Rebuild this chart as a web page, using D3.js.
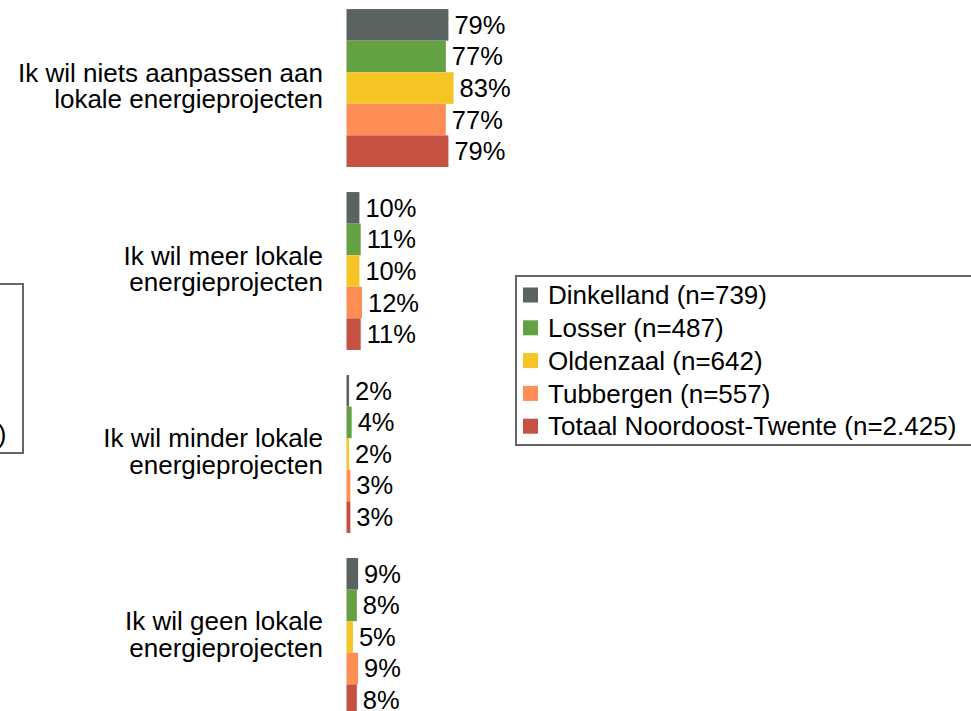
<!DOCTYPE html>
<html>
<head>
<meta charset="utf-8">
<script src="https://cdn.jsdelivr.net/npm/d3@7"></script>
<style>
  body { margin: 0; background: #fff; overflow: hidden; }
  svg { display: block; font-family: "Liberation Sans", Arial, sans-serif; }
</style>
</head>
<body>
<svg id="chart" width="971" height="711"></svg>
<script>
// answer categories (lines of the wrapped label)
const categories = [
  ['Ik wil niets aanpassen aan', 'lokale energieprojecten'],
  ['Ik wil meer lokale', 'energieprojecten'],
  ['Ik wil minder lokale', 'energieprojecten'],
  ['Ik wil geen lokale', 'energieprojecten']
];
const seriesNames = [
  'Dinkelland (n=739)',
  'Losser (n=487)',
  'Oldenzaal (n=642)',
  'Tubbergen (n=557)',
  'Totaal Noordoost-Twente (n=2.425)'
];
const dinkelland = [79, 10, 2, 9];
const losser = [77, 11, 4, 8];
const oldenzaal = [83, 10, 2, 5];
const tubbergen = [77, 12, 3, 9];
const totaal = [79, 11, 3, 8];
const colors = ['#5b6361', '#63a143', '#f5c425', '#fe8d56', '#c45142'];

const seriesValues = [dinkelland, losser, oldenzaal, tubbergen, totaal];

const svg = d3.select('#chart');

const x = d3.scaleLinear().domain([0, 100]).range([346.5, 475.5]);

const y = d3.scaleBand()
  .domain(d3.range(categories.length))
  .range([-16, 741])
  .padding(0.137);

const ySub = d3.scaleBand()
  .domain(d3.range(seriesNames.length))
  .range([0, y.bandwidth()]);

// one group per answer category
const groups = svg.selectAll('g.cat')
  .data(categories)
  .enter()
  .append('g')
  .attr('class', 'cat')
  .attr('transform', (d, i) => 'translate(0,' + y(i) + ')');

groups.selectAll('rect')
  .data((d, i) => seriesValues.map((s, j) => ({v: s[i], j: j})))
  .enter()
  .append('rect')
  .attr('x', x(0))
  .attr('y', d => ySub(d.j))
  .attr('width', d => x(d.v) - x(0))
  .attr('height', ySub.bandwidth())
  .attr('fill', d => colors[d.j]);

groups.selectAll('text.val')
  .data((d, i) => seriesValues.map((s, j) => ({v: s[i], j: j})))
  .enter()
  .append('text')
  .attr('class', 'val')
  .attr('x', d => x(d.v) + 6)
  .attr('y', d => ySub(d.j) + ySub.bandwidth() / 2)
  .attr('dy', '0.35em')
  .style('font-size', '25.5px')
  .style('fill', '#000')
  .text(d => d.v + '%');

// category labels, right aligned against the bars
groups.append('text')
  .attr('text-anchor', 'end')
  .attr('x', 323)
  .attr('y', y.bandwidth() / 2)
  .style('font-size', '26px')
  .style('fill', '#000')
  .selectAll('tspan')
  .data(d => d)
  .enter()
  .append('tspan')
  .attr('x', 323)
  .attr('dy', (d, i) => i === 0 ? '-0.25em' : '1.02em')
  .text(d => d);

// legend
function drawLegend(tx, ty) {
  const lg = svg.append('g').attr('transform', 'translate(' + tx + ',' + ty + ')');
  lg.append('rect')
    .attr('x', 0).attr('y', 0)
    .attr('width', 457).attr('height', 169)
    .attr('fill', '#fff')
    .attr('stroke', '#666')
    .attr('stroke-width', 2);
  const rows = lg.selectAll('g.row')
    .data(seriesNames)
    .enter()
    .append('g')
    .attr('transform', (d, i) => 'translate(0,' + (19 + i * 32.8) + ')');
  rows.append('rect')
    .attr('x', 7).attr('y', -7.5)
    .attr('width', 15).attr('height', 15)
    .attr('fill', (d, i) => colors[i]);
  rows.append('text')
    .attr('x', 32)
    .attr('y', 0)
    .attr('dy', '0.35em')
    .style('font-size', '26px')
    .style('fill', '#000')
    .text(d => d);
}

drawLegend(516, 276);
drawLegend(-434, 284);
</script>
</body>
</html>
